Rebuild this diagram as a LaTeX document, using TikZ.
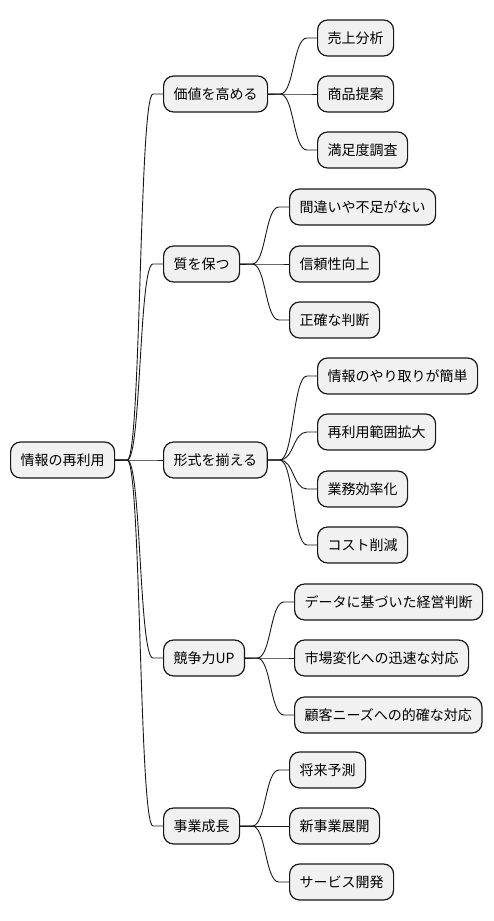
\documentclass[tikz,border=0pt]{standalone}
\usepackage{fontspec}
\setmainfont{Noto Sans CJK JP}
\usetikzlibrary{calc}
\definecolor{boxfill}{HTML}{F1F1F1}
\definecolor{lineclr}{HTML}{181818}
\newcommand\mmlink[2]{\draw[conn] (#1.east) -- ++(12,0) .. controls +(14,0) and +(-14,0) .. ($(#2.west)+(-10,0)$) -- (#2.west);}
\begin{document}
\begin{tikzpicture}[x=1pt,y=-1pt,
  box/.style={draw=lineclr, fill=boxfill, line width=1.2pt, rounded corners=10pt,
    minimum height=36pt, inner xsep=10pt, inner ysep=0pt, anchor=west,
    font=\fontsize{14pt}{16pt}\selectfont},
  conn/.style={draw=lineclr, line width=0.9pt}]
\useasboundingbox (0,0) rectangle (493,921);
\node[box] (root) at (10,460) {情報の再利用};
\node[box] (v1) at (163,94) {価値を高める};
\node[box] (v2) at (163,264) {質を保つ};
\node[box] (v3) at (163,460) {形式を揃える};
\node[box] (v4) at (163,658) {競争力UP};
\node[box] (v5) at (163,826) {事業成長};
\node[box] (a1) at (317,38) {売上分析};
\node[box] (a2) at (317,94) {商品提案};
\node[box] (a3) at (317,150) {満足度調査};
\node[box] (b1) at (289,207) {間違いや不足がない};
\node[box] (b2) at (289,264) {信頼性向上};
\node[box] (b3) at (289,320) {正確な判断};
\node[box] (c1) at (317,376) {情報のやり取りが簡単};
\node[box] (c2) at (317,432) {再利用範囲拡大};
\node[box] (c3) at (317,489) {業務効率化};
\node[box] (c4) at (317,545) {コスト削減};
\node[box] (d1) at (294,602) {データに基づいた経営判断};
\node[box] (d2) at (294,658) {市場変化への迅速な対応};
\node[box] (d3) at (294,715) {顧客ニーズへの的確な対応};
\node[box] (e1) at (289,770) {将来予測};
\node[box] (e2) at (289,826) {新事業展開};
\node[box] (e3) at (289,882) {サービス開発};
\foreach \c in {v1,v2,v3,v4,v5} {\mmlink{root}{\c}}
\foreach \c in {a1,a2,a3} {\mmlink{v1}{\c}}
\foreach \c in {b1,b2,b3} {\mmlink{v2}{\c}}
\foreach \c in {c1,c2,c3,c4} {\mmlink{v3}{\c}}
\foreach \c in {d1,d2,d3} {\mmlink{v4}{\c}}
\foreach \c in {e1,e2,e3} {\mmlink{v5}{\c}}
\end{tikzpicture}
\end{document}
